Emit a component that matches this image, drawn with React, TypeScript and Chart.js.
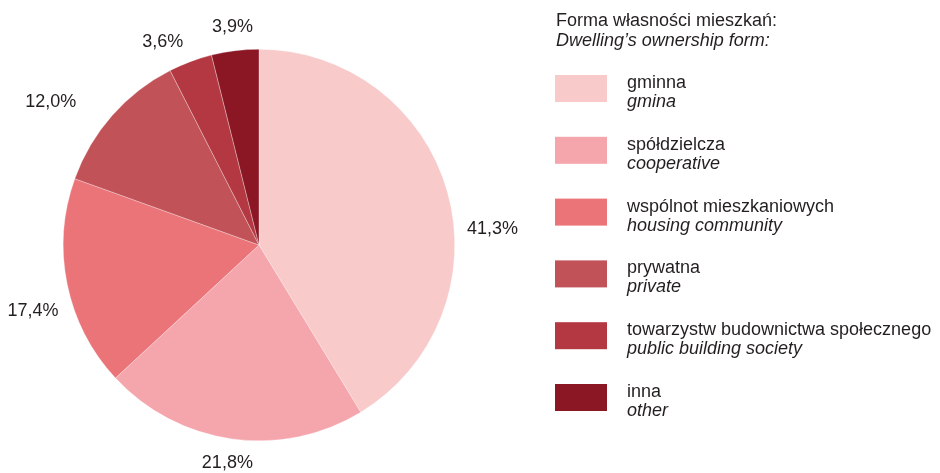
import React, { useEffect, useRef } from "react";
import { Chart, registerables } from "chart.js";

Chart.register(...registerables);

const legendTitle = ["Forma własności mieszkań:", "Dwelling’s ownership form:"];
const categoriesPl = [
  "gminna",
  "spółdzielcza",
  "wspólnot mieszkaniowych",
  "prywatna",
  "towarzystw budownictwa społecznego",
  "inna",
];
const categoriesEn = [
  "gmina",
  "cooperative",
  "housing community",
  "private",
  "public building society",
  "other",
];
const shares = [41.3, 21.8, 17.4, 12.0, 3.6, 3.9];
const colors = ["#F8CACA", "#F5A5AC", "#EB7479", "#C15258", "#B33841", "#8B1725"];

const FONT = "'Liberation Sans', Arial, sans-serif";
const TEXT = "#231F20";

const fmt = (v: number) => v.toFixed(1).replace(".", ",") + "%";

// small manual nudges of the label text (like hand-placed data labels)
const labelNudges: [number, number][] = [
  [8, 40],
  [-3, 3],
  [3, 25],
  [-27, 3],
  [-3, 1],
  [-1, -3],
];

const labelPlugin = {
  id: "sliceLabels",
  afterDatasetsDraw(chart: any) {
    const ctx = chart.ctx;
    const meta = chart.getDatasetMeta(0);
    ctx.save();
    ctx.font = `18px ${FONT}`;
    ctx.fillStyle = TEXT;
    meta.data.forEach((arc: any, i: number) => {
      const { x, y, startAngle, endAngle, outerRadius } = arc.getProps(
        ["x", "y", "startAngle", "endAngle", "outerRadius"],
        true
      );
      const mid = (startAngle + endAngle) / 2;
      const c = Math.cos(mid);
      const s = Math.sin(mid);
      const d = outerRadius + 12;
      const [nx, ny] = labelNudges[i] || [0, 0];
      const px = x + d * c + nx;
      const py = y + d * s + ny;
      ctx.textAlign = c > 0.3 ? "left" : c < -0.3 ? "right" : "center";
      ctx.textBaseline = s > 0.3 ? "top" : s < -0.3 ? "bottom" : "middle";
      ctx.fillText(fmt(shares[i]), px, py);
    });
    ctx.restore();
  },
};

const legendPlugin = {
  id: "customLegend",
  afterDraw(chart: any) {
    const ctx = chart.ctx;
    ctx.save();
    ctx.fillStyle = TEXT;
    ctx.textAlign = "left";
    ctx.textBaseline = "alphabetic";
    const lx = 555;
    ctx.font = `18px ${FONT}`;
    ctx.fillText(legendTitle[0], lx + 1, 26);
    ctx.font = `italic 18px ${FONT}`;
    ctx.fillText(legendTitle[1], lx + 1, 46);
    categoriesPl.forEach((pl, i) => {
      const top = 75 + 61.8 * i;
      ctx.fillStyle = colors[i];
      ctx.fillRect(lx, top, 52, 27);
      ctx.fillStyle = TEXT;
      ctx.font = `18px ${FONT}`;
      ctx.fillText(pl, 627, top + 13);
      ctx.font = `italic 18px ${FONT}`;
      ctx.fillText(categoriesEn[i], 627, top + 32);
    });
    ctx.restore();
  },
};

export default function App() {
  const ref = useRef<HTMLCanvasElement | null>(null);
  useEffect(() => {
    if (!ref.current) return;
    const chart = new Chart(ref.current, {
      type: "pie",
      data: {
        labels: categoriesPl,
        datasets: [
          {
            data: shares,
            backgroundColor: colors,
            borderColor: "rgba(255,255,255,0.6)",
            borderWidth: 0.5,
          },
        ],
      },
      options: {
        responsive: true,
        maintainAspectRatio: false,
        animation: false,
        layout: { padding: { left: 63, right: 485, top: 49, bottom: 32 } },
        plugins: {
          legend: { display: false },
          tooltip: { enabled: false },
        },
      },
      plugins: [labelPlugin, legendPlugin],
    });
    return () => chart.destroy();
  }, []);
  return (
    <div style={{ position: "fixed", left: 0, top: 0, width: 940, height: 473, background: "#fff" }}>
      <canvas ref={ref} />
    </div>
  );
}
